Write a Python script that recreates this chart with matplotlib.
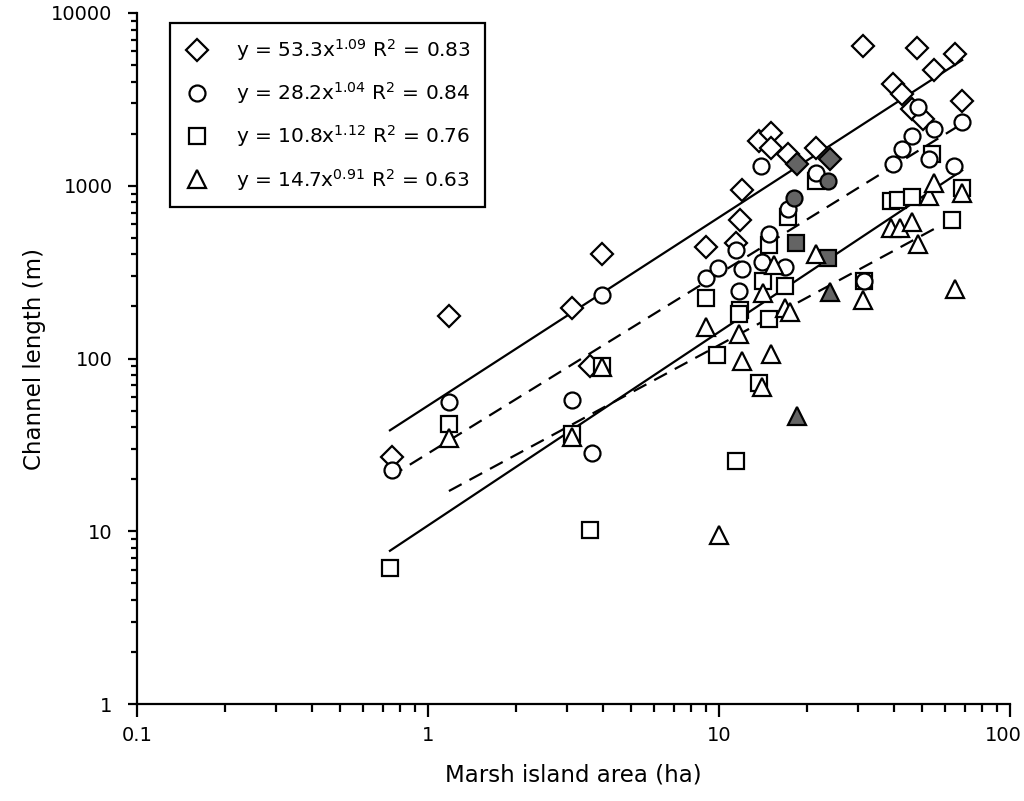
import numpy as np
import matplotlib
matplotlib.use('Agg')
import matplotlib.pyplot as plt
import matplotlib.transforms as mtransforms
from matplotlib.lines import Line2D
from matplotlib.ticker import LogLocator, FixedLocator, FixedFormatter, NullFormatter

# marsh islands: area (ha) vs channel length (m), one list per measure
dia_x = [0.75, 1.18, 3.12, 3.6, 3.95, 9.0, 11.4, 11.8, 12.0, 13.7, 15.1, 15.1, 17.2, 21.5,
         31.3, 39.7, 42.5, 46.0, 47.9, 50.4, 54.6, 64.6, 68.5]
dia_y = [27, 176, 195, 90, 405, 440, 465, 630, 940, 1810, 2020, 1650, 1520, 1660,
         6400, 3880, 3400, 2770, 6300, 2430, 4650, 5810, 3100]
dia_fx = [18.6, 24.0]
dia_fy = [1330, 1420]

circ_x = [0.75, 1.18, 3.12, 3.65, 3.95, 9.0, 9.9, 11.4, 11.7, 12.0, 13.9, 14.1, 14.9, 16.8,
          17.2, 21.5, 31.5, 39.7, 42.5, 46.0, 48.2, 52.5, 55.0, 64.1, 68.5]
circ_y = [22.6, 56, 57.5, 28.3, 233, 293, 335, 425, 245, 330, 1300, 360, 525, 340,
          730, 1190, 280, 1330, 1640, 1940, 2840, 1420, 2140, 1300, 2350]
circ_fx = [18.1, 23.7]
circ_fy = [845, 1065]

sq_x = [0.74, 1.18, 3.12, 3.6, 3.95, 9.0, 9.84, 11.4, 11.8, 11.7, 13.7, 14.2, 14.9, 14.9,
        16.8, 17.2, 21.5, 31.5, 38.9, 41.3, 46.0, 53.9, 63.2, 68.5]
sq_y = [6.1, 41.6, 36.6, 10.2, 90, 225, 105, 25.4, 190, 180, 72, 280, 455, 170,
        262, 655, 1060, 280, 811, 828, 866, 1517, 634, 969]
sq_fx = [18.4, 23.7]
sq_fy = [468, 380]

tri_x = [1.18, 3.12, 3.95, 9.0, 10.0, 11.7, 12.0, 14.1, 14.2, 15.1, 15.4, 16.8, 17.5, 21.5,
         31.3, 38.9, 41.8, 46.0, 48.2, 52.5, 54.6, 64.6, 68.5]
tri_y = [34.5, 35, 89, 152, 9.5, 139, 97, 68, 238, 106, 350, 195, 186, 405,
         219, 566, 566, 620, 463, 875, 1037, 253, 906]
tri_fx = [18.6, 24.0]
tri_fy = [46.5, 242]

# power-law fits (a, b) and the x span each line covers
fits = [(53.3, 1.09, 0.74, 68.5, '-'),
        (28.2, 1.04, 0.74, 68.5, '--'),
        (10.8, 1.12, 0.74, 68.5, '-'),
        (14.7, 0.91, 1.18, 57.0, '--')]

labels = [r'y = 53.3x$^{1.09}$ R$^{2}$ = 0.83',
          r'y = 28.2x$^{1.04}$ R$^{2}$ = 0.84',
          r'y = 10.8x$^{1.12}$ R$^{2}$ = 0.76',
          r'y = 14.7x$^{0.91}$ R$^{2}$ = 0.63']

fill_grey = '#646464'

fig = plt.figure(figsize=(10.24, 8.01), dpi=100)
ax = fig.add_axes([137/1024, 97/801, 873/1024, 691/801])

for a, b, x0, x1, ls in fits:
    xs = np.array([x0, x1])
    line, = ax.plot(xs, a * xs ** b, color='black', lw=1.6, ls=ls, zorder=2)
    if ls == '--':
        line.set_dashes((6.5, 4))

mk = dict(ls='none', mec='black', mew=1.6, zorder=3)
ax.plot(dia_x, dia_y, marker='D', ms=11, mfc='white', **mk)
ax.plot(dia_fx, dia_fy, marker='D', ms=11, mfc=fill_grey, **mk)
ax.plot(sq_x, sq_y, marker='s', ms=11, mfc='white', **mk)
ax.plot(sq_fx, sq_fy, marker='s', ms=11, mfc=fill_grey, **mk)
ax.plot(circ_x, circ_y, marker='o', ms=11.5, mfc='white', **mk)
ax.plot(circ_fx, circ_fy, marker='o', ms=11.5, mfc=fill_grey, **mk)
ax.plot(tri_x, tri_y, marker='^', ms=12.5, mfc='white', **mk)
ax.plot(tri_fx, tri_fy, marker='^', ms=12.5, mfc=fill_grey, **mk)

ax.set_xscale('log')
ax.set_yscale('log')
ax.set_xlim(0.1, 100)
ax.set_ylim(1, 10000)

ax.spines['top'].set_visible(False)
ax.spines['right'].set_visible(False)
for s in ['left', 'bottom']:
    ax.spines[s].set_linewidth(1.6)

xt = [0.1, 1, 10, 100]
yt = [1, 10, 100, 1000, 10000]
ax.xaxis.set_major_locator(FixedLocator(xt))
ax.xaxis.set_major_formatter(FixedFormatter(['0.1', '1', '10', '100']))
ax.yaxis.set_major_locator(FixedLocator(yt))
ax.yaxis.set_major_formatter(FixedFormatter(['1', '10', '100', '1000', '10000']))
ax.xaxis.set_minor_locator(LogLocator(base=10, subs=np.arange(2, 10)))
ax.yaxis.set_minor_locator(LogLocator(base=10, subs=np.arange(2, 10)))
ax.xaxis.set_minor_formatter(NullFormatter())
ax.yaxis.set_minor_formatter(NullFormatter())

ax.tick_params(axis='x', which='major', direction='out', length=9, width=1.6, labelsize=14, pad=7)
ax.tick_params(axis='x', which='minor', direction='out', length=6, width=1.6)
ax.tick_params(axis='y', which='major', direction='out', length=6.5, width=1.6, labelsize=14, pad=11)
ax.tick_params(axis='y', which='minor', direction='out', length=4.5, width=1.6)

# the last x label sits left of its tick so it stays inside the picture
last = ax.get_xticklabels()[-1]
last.set_transform(last.get_transform() + mtransforms.ScaledTranslation(-0.07, 0, fig.dpi_scale_trans))

ax.set_xlabel('Marsh island area (ha)', fontsize=16.5, labelpad=13)
ax.set_ylabel('Channel length (m)', fontsize=16.5, labelpad=4)

handles = [Line2D([], [], ls='none', marker='D', ms=11, mfc='white', mec='black', mew=1.6),
           Line2D([], [], ls='none', marker='o', ms=11.5, mfc='white', mec='black', mew=1.6),
           Line2D([], [], ls='none', marker='s', ms=11, mfc='white', mec='black', mew=1.6),
           Line2D([], [], ls='none', marker='^', ms=12.5, mfc='white', mec='black', mew=1.6)]
leg = ax.legend(handles, labels, loc='upper left', bbox_to_anchor=(33/873, (704-23)/691),
                fontsize=14.5, frameon=True, fancybox=False, framealpha=1,
                edgecolor='black', borderpad=0.7, labelspacing=0.86,
                handlelength=1.3, handletextpad=1.3, borderaxespad=0)
leg.get_frame().set_linewidth(1.6)

fig.savefig('out.png', dpi=100)
